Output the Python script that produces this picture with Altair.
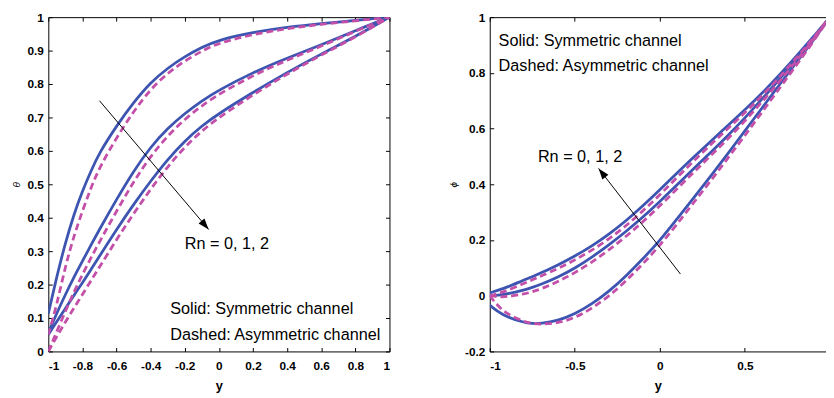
import math
import altair as alt
import pandas as pd

# ---------------- data ----------------
# Left panel: theta vs y
Y_LEFT = [-1, -0.95, -0.9, -0.85, -0.8, -0.75, -0.7, -0.6, -0.5, -0.4, -0.3,
          -0.2, -0.1, 0, 0.2, 0.4, 0.6, 0.8, 1]
THETA_SYM_RN0 = [0.113, 0.225, 0.325, 0.41, 0.48, 0.54, 0.595, 0.675, 0.745, 0.805,
                 0.848, 0.882, 0.91, 0.932, 0.955, 0.97, 0.981, 0.99, 1.0]
THETA_SYM_RN1 = [0.055, 0.115, 0.17, 0.222, 0.27, 0.318, 0.365, 0.455, 0.54, 0.612,
                 0.668, 0.712, 0.75, 0.782, 0.835, 0.878, 0.917, 0.96, 1.0]
THETA_SYM_RN2 = [0.05, 0.09, 0.128, 0.168, 0.205, 0.245, 0.285, 0.365, 0.44, 0.51,
                 0.575, 0.63, 0.675, 0.712, 0.775, 0.835, 0.89, 0.942, 1.0]
THETA_ASY_RN0 = [0.05, 0.14, 0.255, 0.345, 0.42, 0.49, 0.55, 0.64, 0.718, 0.785,
                 0.833, 0.869, 0.899, 0.923, 0.949, 0.966, 0.979, 0.989, 1.0]
THETA_ASY_RN1 = [0.0, 0.06, 0.12, 0.178, 0.23, 0.28, 0.328, 0.42, 0.508, 0.585,
                 0.645, 0.695, 0.735, 0.77, 0.826, 0.872, 0.913, 0.958, 1.0]
THETA_ASY_RN2 = [0.0, 0.045, 0.088, 0.13, 0.17, 0.212, 0.252, 0.335, 0.412, 0.486,
                 0.553, 0.612, 0.66, 0.7, 0.768, 0.83, 0.887, 0.94, 1.0]

# Right panel: phi vs y
Y_RIGHT = [-1, -0.95, -0.9, -0.8, -0.75, -0.7, -0.6, -0.5, -0.4, -0.3, -0.2, -0.1,
           0, 0.1, 0.2, 0.3, 0.4, 0.5, 0.6, 0.7, 0.8, 0.9, 1]
PHI_SYM_RN2 = [0.01, 0.02, 0.03, 0.056, 0.068, 0.082, 0.11, 0.142, 0.178, 0.22, 0.268,
               0.322, 0.38, 0.44, 0.498, 0.555, 0.611, 0.667, 0.726, 0.79, 0.858, 0.928, 1.0]
PHI_SYM_RN1 = [0.0, 0.002, 0.006, 0.02, 0.03, 0.04, 0.066, 0.098, 0.138, 0.182, 0.23,
               0.282, 0.338, 0.397, 0.457, 0.515, 0.575, 0.638, 0.705, 0.775, 0.847, 0.922, 1.0]
PHI_SYM_RN0 = [-0.034, -0.058, -0.076, -0.096, -0.1, -0.1, -0.09, -0.066, -0.03, 0.015,
               0.07, 0.132, 0.198, 0.275, 0.352, 0.43, 0.51, 0.592, 0.673, 0.755, 0.835,
               0.915, 1.0]
PHI_ASY_RN2 = [0.0, 0.008, 0.018, 0.044, 0.057, 0.07, 0.097, 0.128, 0.163, 0.203, 0.25,
               0.304, 0.362, 0.424, 0.484, 0.543, 0.6, 0.657, 0.717, 0.782, 0.851, 0.924, 1.0]
PHI_ASY_RN1 = [0.0, -0.004, -0.004, 0.006, 0.014, 0.024, 0.05, 0.082, 0.12, 0.164, 0.212,
               0.265, 0.322, 0.383, 0.444, 0.503, 0.563, 0.627, 0.695, 0.767, 0.84, 0.918, 1.0]
PHI_ASY_RN0 = [0.0, -0.038, -0.065, -0.093, -0.1, -0.103, -0.098, -0.08, -0.046, -0.002,
               0.052, 0.114, 0.18, 0.256, 0.335, 0.413, 0.494, 0.575, 0.658, 0.742, 0.825,
               0.91, 1.0]

# Axis ticks
X_TICKS_LEFT = [-1, -0.8, -0.6, -0.4, -0.2, 0, 0.2, 0.4, 0.6, 0.8, 1]
Y_TICKS_LEFT = [0, 0.1, 0.2, 0.3, 0.4, 0.5, 0.6, 0.7, 0.8, 0.9, 1]
X_TICKS_RIGHT = [-1, -0.5, 0, 0.5]
Y_TICKS_RIGHT = [-0.2, 0, 0.2, 0.4, 0.6, 0.8, 1]

# Annotations (data coordinates)
LEFT_ARROW = {"x": [-0.70, -0.06], "v": [0.75, 0.365]}
RIGHT_ARROW = {"x": [0.121, -0.36], "v": [0.078, 0.457]}
LEFT_TEXTS = [(-0.2, 0.306, "Rn = 0, 1, 2"),
              (-0.285, 0.112, "Solid: Symmetric channel"),
              (-0.285, 0.035, "Dashed: Asymmetric channel")]
RIGHT_TEXTS = [(-0.717, 0.479, "Rn = 0, 1, 2"),
               (-0.948, 0.898, "Solid: Symmetric channel"),
               (-0.948, 0.806, "Dashed: Asymmetric channel")]

# ---------------- styling ----------------
BLUE = "#3D55B1"
MAGENTA = "#C44FA8"
TICK_FONT = "Liberation Sans Narrow, Arial Narrow, Liberation Sans, Arial"
TEXT_FONT = "Liberation Sans Narrow, Arial Narrow, Liberation Sans, Arial"

W_L, W_R, H = 347, 342, 340
HEAD_PATH = "M0,0 L-0.38,1.1 L0.38,1.1 Z"


def long_frame(xs, series):
    rows = []
    for name, style, vals in series:
        for x, v in zip(xs, vals):
            rows.append({"y": x, "v": v, "rn": name, "style": style})
    return pd.DataFrame(rows)


def panel(df, xdom, ydom, xticks, yticks, width, ytitle, arrow, texts, right_frame=True):
    xs = alt.Scale(domain=xdom, nice=False, zero=False)
    ys = alt.Scale(domain=ydom, nice=False, zero=False)
    lab = "'' + datum.value"

    solid = alt.Chart(df).transform_filter(alt.datum.style == "solid").mark_line(
        color=BLUE, strokeWidth=2.8, interpolate="basis", clip=True
    ).encode(
        x=alt.X("y:Q", scale=xs, axis=alt.Axis(
            orient="bottom", values=xticks, labelExpr=lab, ticks=False, domain=True,
            labelPadding=9, title="y", titleFontSize=13, titleFontWeight="bold",
            titlePadding=9, titleFont=TICK_FONT)),
        y=alt.Y("v:Q", scale=ys, axis=alt.Axis(
            orient="left", values=yticks, labelExpr=lab, ticks=False, domain=True,
            labelPadding=5, title=ytitle, titleFontSize=10, titleFontStyle="italic",
            titleFontWeight="normal", titlePadding=6, titleAngle=270)),
        detail="rn:N",
    )
    dashed = alt.Chart(df).transform_filter(alt.datum.style == "dashed").mark_line(
        color=MAGENTA, strokeWidth=2.8, strokeDash=[7, 4], interpolate="basis", clip=True
    ).encode(
        x=alt.X("y:Q", scale=xs, axis=alt.Axis(
            orient="top", offset=-H, values=xticks, labels=False, domain=False,
            ticks=True, tickSize=4, title=None)),
        y=alt.Y("v:Q", scale=ys, axis=alt.Axis(
            orient="right", offset=-width, values=yticks, labels=False, domain=False,
            ticks=True, tickSize=4, title=None)),
        detail="rn:N",
    )
    adf = pd.DataFrame({"y": arrow["x"], "v": arrow["v"]})
    shaft = alt.Chart(adf).mark_line(color="black", strokeWidth=1).encode(
        x=alt.X("y:Q", scale=xs, axis=alt.Axis(
            orient="bottom", offset=-H, values=xticks, labels=False, domain=True,
            ticks=True, tickSize=4, title=None)),
        y=alt.Y("v:Q", scale=ys, axis=alt.Axis(
            orient="left", offset=-width, values=yticks, labels=False,
            domain=right_frame, ticks=right_frame, tickSize=4, title=None)),
    )
    # arrow head angle in screen space
    ppx = width / (xdom[1] - xdom[0])
    ppy = H / (ydom[1] - ydom[0])
    dx = (arrow["x"][1] - arrow["x"][0]) * ppx
    dy = -(arrow["v"][1] - arrow["v"][0]) * ppy
    ang = math.degrees(math.atan2(dx, -dy)) % 360
    hdf = pd.DataFrame({"y": [arrow["x"][1]], "v": [arrow["v"][1]]})
    head = alt.Chart(hdf).mark_point(
        shape=HEAD_PATH, filled=True, color="black", size=420, angle=ang, opacity=1,
        strokeWidth=0
    ).encode(x=alt.X("y:Q", scale=xs, axis=None), y=alt.Y("v:Q", scale=ys, axis=None))
    tdf = pd.DataFrame({"y": [t[0] for t in texts], "v": [t[1] for t in texts],
                        "t": [t[2] for t in texts]})
    txt = alt.Chart(tdf).mark_text(
        align="left", baseline="alphabetic", font=TEXT_FONT, fontSize=16.5, color="black"
    ).encode(x=alt.X("y:Q", scale=xs, axis=None), y=alt.Y("v:Q", scale=ys, axis=None),
             text="t:N")
    return alt.layer(solid, dashed, shaft, head, txt).resolve_axis(
        x="independent", y="independent").properties(width=width, height=H)


dfL = long_frame(Y_LEFT, [
    ("0", "solid", THETA_SYM_RN0), ("1", "solid", THETA_SYM_RN1), ("2", "solid", THETA_SYM_RN2),
    ("0", "dashed", THETA_ASY_RN0), ("1", "dashed", THETA_ASY_RN1), ("2", "dashed", THETA_ASY_RN2),
])
dfR = long_frame(Y_RIGHT, [
    ("0", "solid", PHI_SYM_RN0), ("1", "solid", PHI_SYM_RN1), ("2", "solid", PHI_SYM_RN2),
    ("0", "dashed", PHI_ASY_RN0), ("1", "dashed", PHI_ASY_RN1), ("2", "dashed", PHI_ASY_RN2),
])

left = panel(dfL, [-1, 1], [0, 1], X_TICKS_LEFT, Y_TICKS_LEFT, W_L, "θ", LEFT_ARROW, LEFT_TEXTS)
right = panel(dfR, [-1, 0.977], [-0.2, 1], X_TICKS_RIGHT, Y_TICKS_RIGHT, W_R, "ϕ",
              RIGHT_ARROW, RIGHT_TEXTS, right_frame=False)

chart = alt.hconcat(left, right, spacing=59).properties(
    padding={"left": 3, "top": 0, "right": 0, "bottom": 0}
).configure_view(stroke=None).configure_axis(
    labelFont=TICK_FONT, labelFontSize=12, labelFontWeight="bold", labelColor="black",
    titleColor="black", domainColor="black", tickColor="black", domainWidth=1,
    tickWidth=1, grid=False, titleFont=TICK_FONT
)

chart.save("out.html", embed_options={"renderer": "svg", "actions": False})
